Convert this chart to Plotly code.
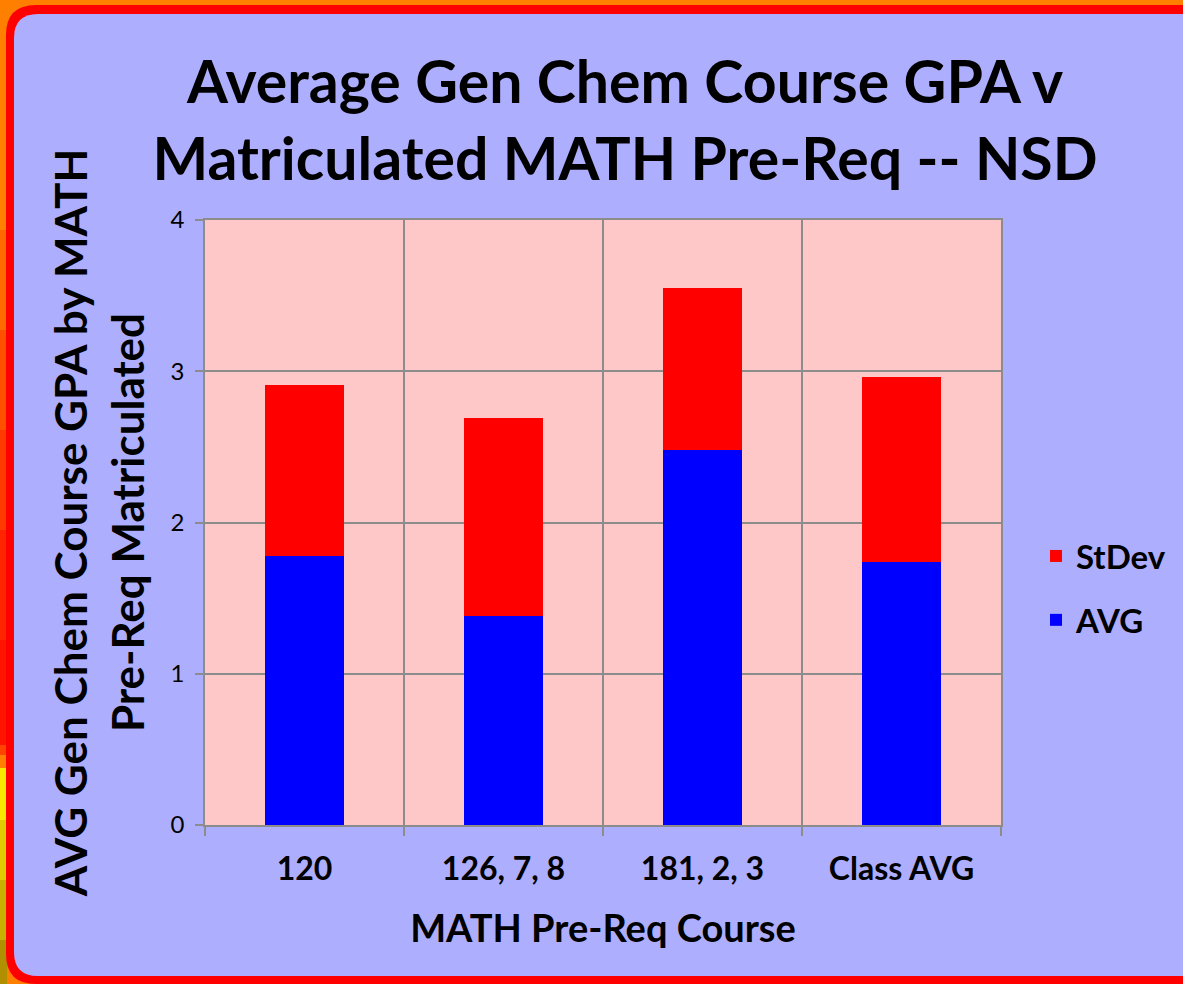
import plotly.graph_objects as go

categories = ["120", "126, 7, 8", "181, 2, 3", "Class AVG"]
avg_values = [1.78, 1.38, 2.48, 1.74]
stdev_values = [1.13, 1.31, 1.07, 1.22]
y_ticks = [0, 1, 2, 3, 4]

W, H = 1183, 984
L, R, T, B = 205, 1001, 220, 825

def px(x):
    return (x - L) / (R - L)

def py(y):
    return (B - y) / (B - T)

def left_rounded(x0, y0, x1, y1, r):
    pts = [
        f"M{px(x0 + r)},{py(y0)}",
        f"L{px(x1)},{py(y0)}",
        f"L{px(x1)},{py(y1)}",
        f"L{px(x0 + r)},{py(y1)}",
        f"Q{px(x0)},{py(y1)} {px(x0)},{py(y1 - r)}",
        f"L{px(x0)},{py(y0 + r)}",
        f"Q{px(x0)},{py(y0)} {px(x0 + r)},{py(y0)}",
        "Z",
    ]
    return " ".join(pts)

FONT = "Lato"

fig = go.Figure()
fig.add_trace(go.Bar(x=categories, y=avg_values, name="AVG", marker_color="#0000ff",
                     marker_line_width=0, legendgroup="a", legendrank=2))
fig.add_trace(go.Bar(x=categories, y=stdev_values, name="StDev", marker_color="#ff0000",
                     marker_line_width=0, legendgroup="b", legendrank=1))

shapes = []
strip = [(0, 230, "#ff8000"), (230, 330, "#ff6a00"), (330, 430, "#ff5000"),
         (430, 530, "#ff3a00"), (530, 640, "#ff2400"), (640, 745, "#ff1400"),
         (745, 755, "#ff4400"), (755, 768, "#ff8000"), (768, 820, "#f8e800"),
         (820, 880, "#e0cc00"), (880, 940, "#c8b000"), (940, 984, "#b09000")]
for y0, y1, c in strip:
    shapes.append(dict(type="rect", xref="paper", yref="paper", layer="below",
                       x0=px(0), x1=px(7), y0=py(y1), y1=py(y0),
                       fillcolor=c, line_width=0))
shapes.append(dict(type="path", xref="paper", yref="paper", layer="below",
                   path=left_rounded(6, 5, W, H, 30), fillcolor="#ff0000", line_width=0))
shapes.append(dict(type="path", xref="paper", yref="paper", layer="below",
                   path=left_rounded(14, 14, W, 976, 24), fillcolor="#aeaeff", line_width=0))
shapes.append(dict(type="rect", xref="paper", yref="paper", layer="below",
                   x0=0, x1=1, y0=0, y1=1, fillcolor="#ffc8c8", line_width=0))

GRID = "#8c8c8c"
fig.update_layout(
    width=W, height=H,
    margin=dict(l=L, r=W - R, t=T, b=H - B),
    paper_bgcolor="#ff8000",
    plot_bgcolor="rgba(0,0,0,0)",
    barmode="stack",
    bargap=0.6,
    shapes=shapes,
    title=dict(
        text="Average Gen Chem Course GPA v<br>Matriculated MATH Pre-Req -- NSD",
        x=625 / W, xanchor="center", xref="container",
        y=1 - 103 / H, yanchor="top", yref="container",
        font=dict(family=FONT, size=59, color="black", weight="bold"),
    ),
    font=dict(family=FONT, color="black"),
    showlegend=True,
    legend=dict(
        x=px(1036), xanchor="left", y=py(588), yanchor="middle",
        traceorder="grouped", tracegroupgap=18,
        font=dict(family=FONT, size=33, color="black", weight="bold"),
        bgcolor="rgba(0,0,0,0)",
    ),
    xaxis=dict(
        type="category",
        tickson="boundaries",
        ticks="outside", ticklen=9, tickcolor=GRID, tickwidth=1.5,
        showgrid=True, gridcolor=GRID, gridwidth=1.5,
        showline=True, linecolor=GRID, linewidth=1.5, mirror=True,
        ticklabelstandoff=15,
        tickfont=dict(family=FONT, size=32, color="black", weight="bold"),
        title=dict(text="MATH Pre-Req Course", standoff=29,
                   font=dict(family=FONT, size=38, color="black", weight="bold")),
    ),
    yaxis=dict(
        range=[0, 4], tickvals=y_ticks,
        ticks="outside", ticklen=8, tickcolor=GRID, tickwidth=1.5,
        showgrid=True, gridcolor=GRID, gridwidth=1.5,
        showline=True, linecolor=GRID, linewidth=1.5, mirror=True,
        zeroline=False,
        ticklabelstandoff=6,
        tickfont=dict(family=FONT, size=24, color="black"),
        title=dict(text="AVG Gen Chem Course GPA by MATH<br>Pre-Req Matriculated", standoff=12,
                   font=dict(family=FONT, size=44, color="black", weight="bold")),
    ),
)

fig.write_html("out.html", config={"displayModeBar": False},
               post_script="document.body.style.margin='0';")
